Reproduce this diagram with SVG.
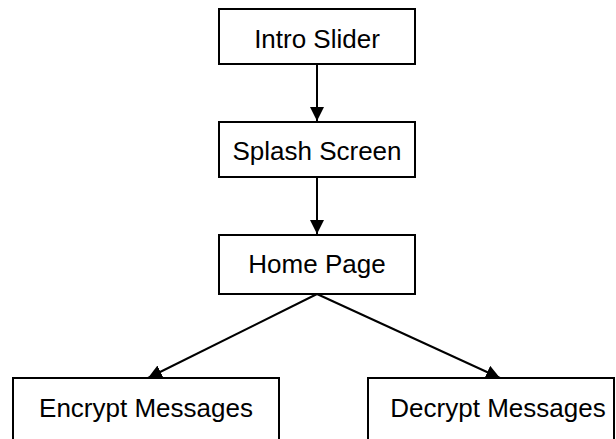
<svg xmlns="http://www.w3.org/2000/svg" width="616" height="439" viewBox="0 0 616 439">
  <style>
    .box { fill: #ffffff; stroke: #000000; stroke-width: 2; }
    .label { font-family: "Liberation Sans", Arial, sans-serif; font-size: 26px; fill: #000000; text-anchor: middle; }
    .edge { stroke: #000000; stroke-width: 2; fill: none; marker-end: url(#arrow); }
  </style>
  <defs>
    <marker id="arrow" viewBox="0 0 10 10" refX="10" refY="5" markerWidth="7" markerHeight="7" orient="auto" markerUnits="strokeWidth">
      <path d="M0,0 L10,5 L0,10 Z" fill="#000000"/>
    </marker>
  </defs>
  <rect width="616" height="439" fill="#ffffff"/>

  <g id="connectors">
    <line class="edge" x1="317" y1="64" x2="317" y2="121"/>
    <line class="edge" x1="317" y1="177" x2="317" y2="234"/>
    <line class="edge" x1="317" y1="294" x2="148" y2="378"/>
    <line class="edge" x1="317" y1="294" x2="500" y2="378"/>
  </g>

  <g id="intro-slider">
    <rect class="box" x="219" y="9" width="196" height="55"/>
    <text class="label" x="317" y="48">Intro Slider</text>
  </g>
  <g id="splash-screen">
    <rect class="box" x="219" y="122" width="196" height="55"/>
    <text class="label" x="317" y="160">Splash Screen</text>
  </g>
  <g id="home-page">
    <rect class="box" x="219" y="235" width="196" height="59"/>
    <text class="label" x="317" y="273">Home Page</text>
  </g>
  <g id="encrypt-messages">
    <rect class="box" x="13" y="378" width="266" height="70"/>
    <text class="label" x="146" y="417">Encrypt Messages</text>
  </g>
  <g id="decrypt-messages">
    <rect class="box" x="368" y="378" width="246" height="70"/>
    <text class="label" x="498" y="417">Decrypt Messages</text>
  </g>
</svg>
